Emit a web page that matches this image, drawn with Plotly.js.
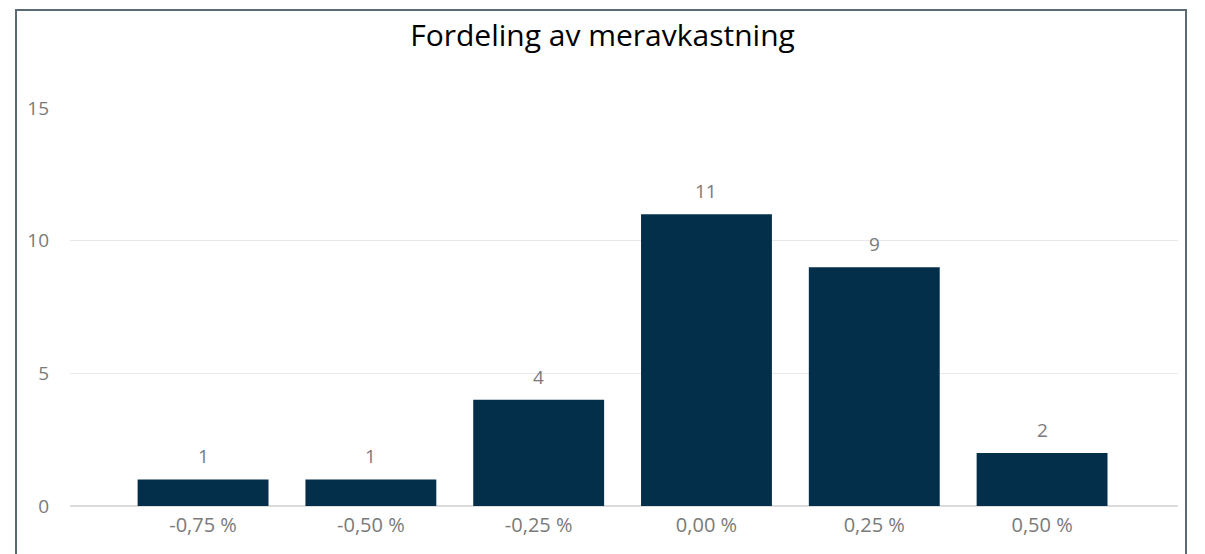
<!DOCTYPE html>
<html>
<head>
<meta charset="utf-8">
<script src="https://cdn.plot.ly/plotly-3.0.1.min.js"></script>
<style>
  body { margin: 0; background: #fff; }
  #frame { position: absolute; left: 15px; top: 9px; width: 1168px; height: 620px; border: 2px solid #5b6b73; pointer-events: none; z-index: 2; }
  #chart { position: absolute; left: 0; top: 0; width: 1205px; height: 554px; }
</style>
</head>
<body>
<div id="chart"></div>
<div id="frame"></div>
<script>
var categories = ['-0,75 %', '-0,50 %', '-0,25 %', '0,00 %', '0,25 %', '0,50 %'];
var counts = [1, 1, 4, 11, 9, 2];
var yTicks = [0, 5, 10, 15];

var trace1 = {
    type: 'bar',
    x: [0, 1, 2, 3, 4, 5],
    y: counts,
    width: 0.78,
    marker: { color: '#042f4a' },
    hoverinfo: 'none'
};

var labels = counts.map(function (v, i) {
    return {
        x: i, y: v, text: String(v),
        xref: 'x', yref: 'y',
        yanchor: 'bottom', yshift: 8,
        showarrow: false,
        font: { family: 'Open Sans, sans-serif', size: 19, color: '#7a7a7a' }
    };
});

var layout = {
    width: 1205,
    height: 554,
    margin: { l: 70, r: 27, t: 108, b: 48 },
    paper_bgcolor: '#ffffff',
    plot_bgcolor: '#ffffff',
    showlegend: false,
    title: {
        text: 'Fordeling av meravkastning',
        font: { family: 'Open Sans, sans-serif', size: 30, color: '#000000' },
        x: 0.5, xanchor: 'center',
        y: 0.936, yanchor: 'middle'
    },
    xaxis: {
        range: [-0.793, 5.81],
        tickvals: [0, 1, 2, 3, 4, 5],
        ticktext: categories,
        showgrid: false,
        zeroline: false,
        showline: false,
        ticks: '',
        ticklabelstandoff: 5,
        tickfont: { family: 'Open Sans, sans-serif', size: 20, color: '#7a7a7a' }
    },
    yaxis: {
        range: [0, 15],
        tickvals: yTicks,
        showgrid: true,
        gridcolor: '#e8e8e8',
        gridwidth: 1.5,
        zeroline: true,
        zerolinecolor: '#dcdcdc',
        zerolinewidth: 2,
        showline: false,
        ticks: '',
        ticklabelstandoff: 20,
        tickfont: { family: 'Open Sans, sans-serif', size: 19, color: '#7a7a7a' }
    },
    annotations: labels
};

Plotly.newPlot('chart', [trace1], layout, { displayModeBar: false, staticPlot: true });
</script>
</body>
</html>
